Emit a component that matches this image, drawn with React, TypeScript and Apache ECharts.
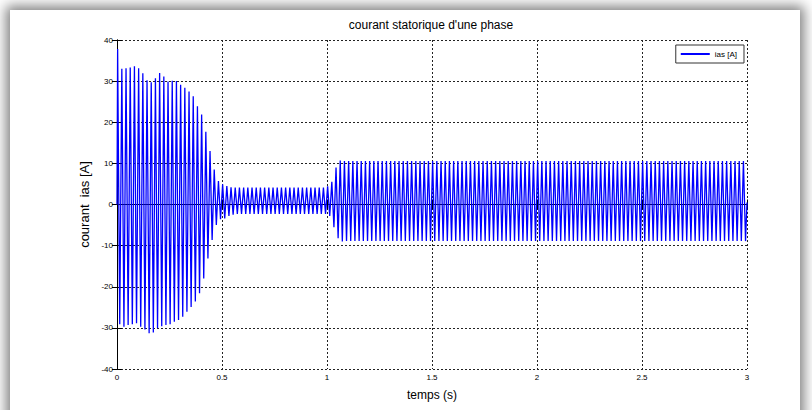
import React, { useEffect, useRef } from "react";
import * as echarts from "echarts";

// ---- data ----
const titleText = "courant statorique d'une phase";
const seriesName = "ias [A]";
const xName = "temps (s)";
const yName = "courant  ias [A]";

const xTicks = [0, 0.5, 1, 1.5, 2, 2.5, 3];
const yTicks = [-40, -30, -20, -10, 0, 10, 20, 30, 40];

// one positive and one negative peak per 50 Hz cycle
const cyclePeriod = 0.02;
const cycleCount = 150;
const upPhase = 0.003;
const downPhase = 0.013;

// start-up transient, cycles 0..24 (0 - 0.5 s)
const transientUp = [37.8, 33.0, 33.1, 33.3, 33.6, 33.1, 31.9, 30.2, 29.7, 30.7, 32.0, 31.1, 29.9, 30.1, 30.0, 29.1, 28.4, 27.5, 26.3, 23.9, 21.9, 17.7, 13.0, 8.5, 5.7];
const transientDown = [-29.1, -29.7, -29.3, -29.1, -28.9, -29.7, -30.4, -31.3, -31.1, -30.1, -29.6, -29.3, -29.1, -28.5, -28.1, -27.3, -26.1, -24.9, -23.6, -21.6, -18.0, -13.1, -8.6, -5.0, -3.6];

// no-load steady state, cycles 25..49 (0.5 - 1 s)
const idleSettleUp = [4.9, 4.5, 4.2];
const idleSettleDown = [-3.4, -2.8, -2.5];
const idleUp = 4.1;
const idleDown = -2.3;

// load step at 1 s, cycles 50..149
const loadRampUp = [4.4, 5.5, 9.0, 10.7];
const loadRampDown = [-2.8, -5.5, -8.2, -9.0];
const loadUp = 10.6;
const loadDown = -8.9;

function peakUp(k: number): number {
  if (k < 25) return transientUp[k];
  if (k < 50) return k - 25 < idleSettleUp.length ? idleSettleUp[k - 25] : idleUp;
  return k - 50 < loadRampUp.length ? loadRampUp[k - 50] : loadUp;
}
function peakDown(k: number): number {
  if (k < 25) return transientDown[k];
  if (k < 50) return k - 25 < idleSettleDown.length ? idleSettleDown[k - 25] : idleDown;
  return k - 50 < loadRampDown.length ? loadRampDown[k - 50] : loadDown;
}

function buildPoints(): [number, number][] {
  const pts: [number, number][] = [[0, 0]];
  for (let k = 0; k < cycleCount; k++) {
    pts.push([upPhase + k * cyclePeriod, peakUp(k)]);
    pts.push([downPhase + k * cyclePeriod, peakDown(k)]);
  }
  pts.push([3, 0.5]);
  return pts;
}

const FONT = "'Liberation Sans', Arial, Helvetica, sans-serif";

export default function App() {
  const ref = useRef<HTMLDivElement>(null);

  useEffect(() => {
    document.body.style.margin = "0";
    if (!ref.current) return;
    const chart = echarts.init(ref.current, undefined, { renderer: "svg" });
    const gridLine = { show: true, lineStyle: { color: "#222", width: 1, type: [2, 2] as any } };
    chart.setOption({
      animation: false,
      title: {
        text: titleText,
        left: 426,
        textAlign: "center",
        top: 14,
        textStyle: { fontFamily: FONT, fontSize: 12, fontWeight: "normal", color: "#000" },
      },
      legend: {
        data: [seriesName],
        right: 68,
        top: 45,
        icon: "rect",
        itemWidth: 29,
        itemHeight: 2,
        itemGap: 4,
        padding: [5, 7, 5, 5],
        borderColor: "#333",
        borderWidth: 1,
        borderRadius: 0,
        backgroundColor: "#fff",
        textStyle: { fontFamily: FONT, fontSize: 8, color: "#000" },
      },
      grid: { left: 117, right: 65, top: 40, bottom: 41 },
      xAxis: [
        {
          type: "value",
          min: 0,
          max: 3,
          interval: 0.5,
          name: xName,
          nameLocation: "middle",
          nameGap: 20,
          nameTextStyle: { fontFamily: FONT, fontSize: 12, color: "#000" },
          axisLine: { show: true, lineStyle: { color: "#000", width: 1 } },
          axisTick: { show: true, inside: true, length: 5, lineStyle: { color: "#000" } },
          axisLabel: {
            fontFamily: FONT,
            fontSize: 8,
            color: "#000",
            margin: 4,
            formatter: (v: number) => (xTicks.includes(v) ? String(v) : ""),
          },
          splitLine: gridLine,
        },
        {
          type: "value",
          position: "top",
          min: 0,
          max: 3,
          interval: 0.5,
          axisLine: { show: true, lineStyle: { color: "#000", width: 1 } },
          axisTick: { show: true, inside: true, length: 5, lineStyle: { color: "#000" } },
          axisLabel: { show: false },
          splitLine: { show: false },
        },
      ],
      yAxis: [
        {
          type: "value",
          min: -40,
          max: 40,
          interval: 10,
          name: yName,
          nameLocation: "middle",
          nameGap: 24,
          nameTextStyle: { fontFamily: FONT, fontSize: 13, color: "#000" },
          axisLine: { show: true, lineStyle: { color: "#000", width: 1 } },
          axisTick: { show: true, inside: true, length: 5, lineStyle: { color: "#000" } },
          axisLabel: {
            fontFamily: FONT,
            fontSize: 8,
            color: "#000",
            margin: 4,
            formatter: (v: number) => (yTicks.includes(v) ? String(v) : ""),
          },
          splitLine: gridLine,
        },
        {
          type: "value",
          position: "right",
          min: -40,
          max: 40,
          interval: 10,
          axisLine: { show: true, lineStyle: { color: "#000", width: 1 } },
          axisTick: { show: true, inside: true, length: 5, lineStyle: { color: "#000" } },
          axisLabel: { show: false },
          splitLine: { show: false },
        },
      ],
      series: [
        {
          name: seriesName,
          type: "line",
          data: buildPoints(),
          showSymbol: false,
          symbol: "none",
          lineStyle: { color: "#0000ff", width: 1.3 },
          itemStyle: { color: "#0000ff" },
          z: 1,
        },
      ],
    });
    return () => chart.dispose();
  }, []);

  return (
    <div style={{ position: "fixed", left: 0, top: 0, width: 812, height: 410, background: "#fff", overflow: "hidden" }}>
      <div
        style={{
          position: "absolute",
          left: 10,
          top: 10,
          width: 790,
          height: 430,
          background: "#fff",
          boxShadow: "0 0 12px 4px rgba(0,0,0,0.5)",
        }}
      />
      <div ref={ref} style={{ position: "absolute", left: 0, top: 0, width: 812, height: 410 }} />
    </div>
  );
}
